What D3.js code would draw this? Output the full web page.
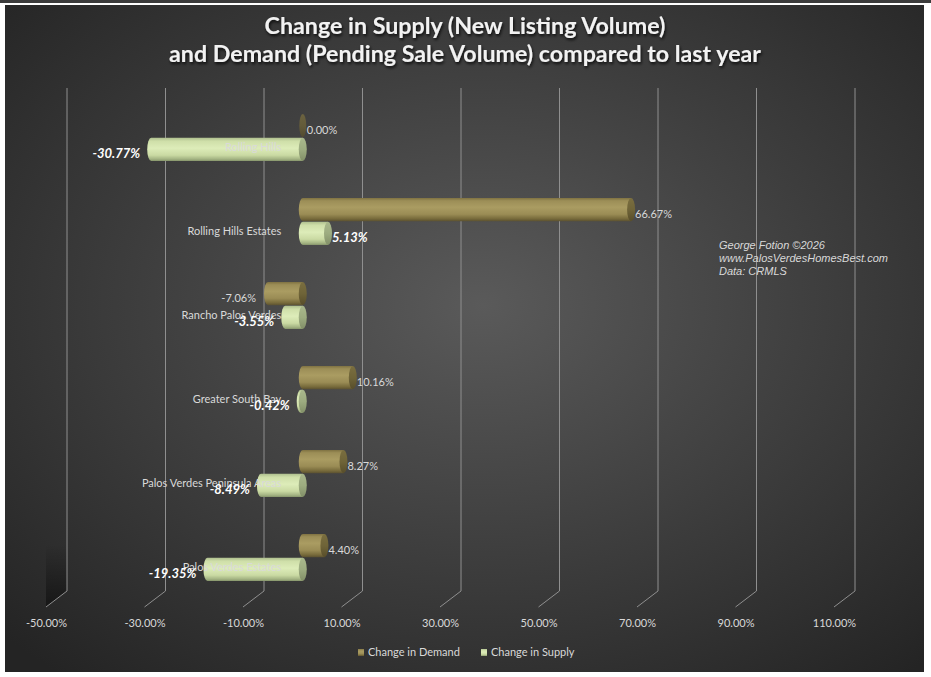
<!DOCTYPE html>
<html>
<head>
<meta charset="utf-8">
<script src="https://cdn.jsdelivr.net/npm/d3@7"></script>
<style>
  body { margin: 0; background: #fff; }
  svg { display: block; }
</style>
</head>
<body>
<script>
// Data
var categories = ["Rolling Hills", "Rolling Hills Estates", "Rancho Palos Verdes",
                  "Greater South Bay", "Palos Verdes Peninsula Areas", "Palos Verdes Estates"];
var seriesNames = ["Change in Demand", "Change in Supply"];
var demand = [0.0, 0.6667, -0.0706, 0.1016, 0.0827, 0.0440];
var supply = [-0.3077, 0.0513, -0.0355, -0.0042, -0.0849, -0.1935];
var tickValues = [-0.5, -0.3, -0.1, 0.1, 0.3, 0.5, 0.7, 0.9, 1.1];
var titleLines = ["Change in Supply (New Listing Volume)",
                  "and Demand (Pending Sale Volume) compared to last year"];
var noteLines = ["George Fotion \u00a92026", "www.PalosVerdesHomesBest.com", "Data: CRMLS"];

var width = 931, height = 677;

var svg = d3.select("body").append("svg")
  .attr("width", width)
  .attr("height", height);
var defs = svg.append("defs");

// background gradient
var bg = defs.append("radialGradient").attr("id", "bg")
  .attr("cx", "52%").attr("cy", "45%").attr("r", "72%");
bg.append("stop").attr("offset", "0%").attr("stop-color", "#5a5a5a");
bg.append("stop").attr("offset", "100%").attr("stop-color", "#242424");

// cylinder shading, top to bottom
function vGrad(id, stops) {
  var g = defs.append("linearGradient").attr("id", id)
    .attr("x1", 0).attr("y1", 0).attr("x2", 0).attr("y2", 1);
  stops.forEach(function(s) {
    g.append("stop").attr("offset", s[0]).attr("stop-color", s[1]);
  });
}
vGrad("bodyDemand", [[0, "#7f7242"], [0.12, "#9c8e57"], [0.4, "#aa9c62"], [0.7, "#9a8c55"], [0.9, "#76693a"], [1, "#5a5030"]]);
vGrad("capDemand", [[0, "#7a6e3f"], [0.5, "#6f6438"], [1, "#574d2a"]]);
vGrad("bodySupply", [[0, "#aebf8e"], [0.15, "#cfdfa9"], [0.45, "#ddecb9"], [0.75, "#cadaa3"], [0.92, "#a3b382"], [1, "#86946b"]]);
vGrad("capSupply", [[0, "#a9b88c"], [0.5, "#9dac80"], [1, "#828f68"]]);
vGrad("wall", [[0, "rgba(0,0,0,0)"], [0.88, "rgba(0,0,0,0)"], [1, "rgba(0,0,0,0.45)"]]);

var shadow = defs.append("filter").attr("id", "shadow")
  .attr("x", "-5%").attr("y", "-20%").attr("width", "110%").attr("height", "150%");
shadow.append("feDropShadow").attr("dx", 1).attr("dy", 2).attr("stdDeviation", 1.5)
  .attr("flood-color", "#000").attr("flood-opacity", 0.8);

// frame
svg.append("rect").attr("x", 0).attr("y", 0).attr("width", width).attr("height", 3).attr("fill", "#3b3b3b");
svg.append("rect").attr("x", 5).attr("y", 5).attr("width", 919).attr("height", 667).attr("fill", "url(#bg)");

// scales: back wall, bars sit half way to the front
var xBack = d3.scaleLinear().domain([-0.5, 1.1]).range([67, 855]);
var depthX = -21, depthY = 16;
var xFront = function(v) { return xBack(v) + depthX; };
var xBar = function(v) { return xBack(v) + depthX / 2; };

var y = d3.scaleBand().domain(categories).range([95.5, 599.5]);
var ySeries = d3.scaleBand().domain(seriesNames).range([0, y.bandwidth() * 47 / 84]).paddingInner(0.02);
var bandOffset = y.bandwidth() / 2 - ySeries.range()[1] / 2;

var gridTop = 88, gridBottom = 591;

// plain hyphen for negatives, like the original
var locale = d3.formatLocale({decimal: ".", thousands: ",", grouping: [3], currency: ["", ""], minus: "-"});
var pct = locale.format(".2%");

// dark side wall at the bottom left
svg.append("path")
  .attr("d", "M" + xBack(-0.5) + "," + gridTop + "L" + xBack(-0.5) + "," + gridBottom +
             "L" + xFront(-0.5) + "," + (gridBottom + depthY) + "L" + xFront(-0.5) + "," + (gridTop + depthY) + "Z")
  .attr("fill", "url(#wall)");

// gridlines
var grid = svg.append("g").attr("stroke", "#8f8f8f").attr("stroke-width", 1).attr("fill", "none");
grid.selectAll("path").data(tickValues).join("path")
  .attr("d", function(d) {
    return "M" + xBack(d) + "," + gridTop + "L" + xBack(d) + "," + gridBottom +
           "L" + xFront(d) + "," + (gridBottom + depthY);
  });

// x axis labels
var axis = svg.append("g").attr("transform", "translate(0,616)")
  .call(d3.axisBottom(d3.scaleLinear().domain(xBack.domain()).range(xBack.range().map(function(r) { return r + depthX; })))
    .tickValues(tickValues).tickSize(0).tickPadding(3).tickFormat(pct));
axis.select(".domain").remove();
axis.selectAll("text")
  .attr("fill", "#d9d9d9").attr("font-family", "Lato, sans-serif").attr("font-size", 11);

// bars
var rx = 4;
function cylinder(g, v, top, h, kind) {
  var x0 = xBar(0), x1 = xBar(v);
  var a = Math.min(x0, x1), b = Math.max(x0, x1);
  var ry = h / 2;
  if (b - a > 0.5) {
    g.append("path")
      .attr("d", "M" + b + "," + top + "L" + a + "," + top +
                 "A" + rx + "," + ry + " 0 0 0 " + a + "," + (top + h) +
                 "L" + b + "," + (top + h) + "Z")
      .attr("fill", "url(#body" + kind + ")");
  }
  g.append("ellipse")
    .attr("cx", b).attr("cy", top + ry).attr("rx", b - a > 0.5 ? rx : 3.5).attr("ry", ry)
    .attr("fill", "url(#cap" + kind + ")")
    .attr("opacity", b - a > 0.5 ? 1 : 0.75);
}

var bars = svg.append("g");
categories.forEach(function(c, i) {
  var g = bars.append("g");
  var top = y(c) + bandOffset;
  cylinder(g, demand[i], top + ySeries("Change in Demand"), ySeries.bandwidth(), "Demand");
  cylinder(g, supply[i], top + ySeries("Change in Supply"), ySeries.bandwidth(), "Supply");
});

// category labels (drawn over the bars as in the original)
svg.append("g").selectAll("text").data(categories).join("text")
  .attr("x", xFront(0) - 11)
  .attr("y", function(d) { return y(d) + bandOffset + ySeries("Change in Supply") + ySeries.bandwidth() / 2 + 2; })
  .attr("text-anchor", "end")
  .attr("fill", "#d9d9d9").attr("font-family", "Lato, sans-serif").attr("font-size", 11)
  .text(function(d) { return d; });

// demand value labels
svg.append("g").selectAll("text").data(demand).join("text")
  .attr("x", function(d) { return d < 0 ? xBar(d) - 12 : xBar(d) + 4; })
  .attr("y", function(d, i) { return y(categories[i]) + bandOffset + ySeries("Change in Demand") + ySeries.bandwidth() / 2 + 8; })
  .attr("text-anchor", function(d) { return d < 0 ? "end" : "start"; })
  .attr("fill", "#d9d9d9").attr("font-family", "Lato, sans-serif").attr("font-size", 11)
  .text(function(d) { return pct(d); });

// supply value labels
svg.append("g").selectAll("text").data(supply).join("text")
  .attr("x", function(d) { return d < 0 ? xBar(d) - 11 : xBar(d) + 4; })
  .attr("y", function(d, i) { return y(categories[i]) + bandOffset + ySeries("Change in Supply") + ySeries.bandwidth() / 2 + 9; })
  .attr("text-anchor", function(d) { return d < 0 ? "end" : "start"; })
  .attr("fill", "#ffffff").attr("font-family", "Lato, sans-serif").attr("font-size", 13)
  .attr("font-weight", "bold").attr("font-style", "italic")
  .text(function(d) { return pct(d); });

// title
var titleWidths = [401, 592];
svg.append("g").selectAll("text").data(titleLines).join("text")
  .attr("x", 465).attr("y", function(d, i) { return 34 + i * 28; })
  .attr("text-anchor", "middle")
  .attr("fill", "#f2f2f2").attr("font-family", "Lato, sans-serif").attr("font-size", 22)
  .attr("font-weight", "bold").attr("filter", "url(#shadow)")
  .attr("textLength", function(d, i) { return titleWidths[i]; })
  .attr("lengthAdjust", "spacingAndGlyphs")
  .text(function(d) { return d; });

// note
svg.append("g").selectAll("text").data(noteLines).join("text")
  .attr("x", 719).attr("y", function(d, i) { return 249 + i * 13; })
  .attr("fill", "#d9d9d9").attr("font-family", "'Liberation Sans', Arial, sans-serif").attr("font-size", 11)
  .attr("font-style", "italic")
  .text(function(d) { return d; });

// legend
var legend = svg.append("g").attr("transform", "translate(0,652)");
var legendX = [358, 481];
seriesNames.forEach(function(s, i) {
  legend.append("rect").attr("x", legendX[i]).attr("y", -3).attr("width", 6).attr("height", 7)
    .attr("fill", i === 0 ? "url(#bodyDemand)" : "url(#bodySupply)");
  legend.append("text").attr("x", legendX[i] + 10).attr("y", 4)
    .attr("fill", "#d9d9d9").attr("font-family", "Lato, sans-serif").attr("font-size", 11)
    .text(s);
});
</script>
</body>
</html>
